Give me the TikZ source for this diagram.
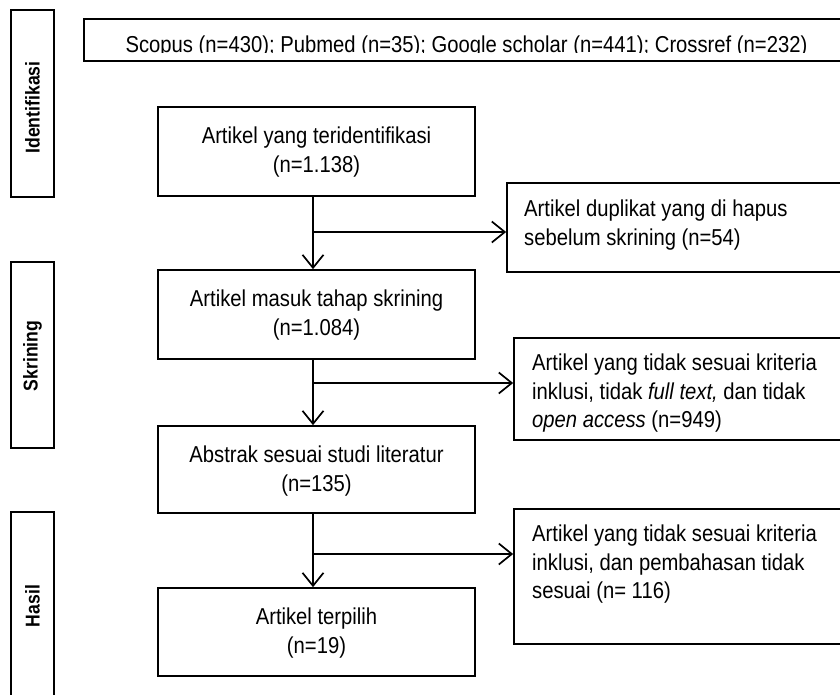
\documentclass[tikz,border=0pt]{standalone}
\usepackage{fontspec}
\setmainfont{Liberation Sans}[FakeStretch=0.88]
\usetikzlibrary{arrows.meta}
\begin{document}
\begin{tikzpicture}[x=1pt,y=-1pt,
  box/.style={draw, line width=1.7pt, inner sep=0pt},
  txt/.style={inner sep=0pt, font=\fontsize{23}{28.7}\selectfont},
  lab/.style={inner sep=0pt, rotate=90, font=\fontsize{20}{24}\selectfont\bfseries},
  arr/.style={line width=1.7pt, -{Straight Barb[length=13pt,width=21pt,line width=1.7pt]}}]
\useasboundingbox (0,0) rectangle (840,694);
\clip (0,0) rectangle (840,694);

% stage labels
\node[box, minimum width=43pt, minimum height=187pt] (l1) at (32.5,103.5) {};
\node[box, minimum width=43pt, minimum height=186pt] (l2) at (32.5,355) {};
\node[box, minimum width=43pt, minimum height=208pt] (l3) at (32.5,616) {};
\node[lab] (l1t) at (32.5,107.5) {Identifikasi};
\node[lab] (l2t) at (32.5,356) {Skrining};
\node[lab] (l3t) at (32.5,606) {Hasil};

% source box
\node[box, minimum width=765pt, minimum height=42pt] (src) at (466.5,40) {};
\begin{scope}
\clip (84,0) rectangle (849,52.6);
\node[txt, anchor=base] (srct) at (466.5,52) {Scopus (n=430); Pubmed (n=35); Google scholar (n=441); Crossref (n=232)};
\end{scope}

% main boxes
\node[box, minimum width=317pt, minimum height=89pt] (b1) at (316.5,151.5) {};
\node[box, minimum width=317pt, minimum height=89pt] (b2) at (316.5,314.5) {};
\node[box, minimum width=317pt, minimum height=87pt] (b3) at (316.5,469.5) {};
\node[box, minimum width=317pt, minimum height=88pt] (b4) at (316.5,632) {};

\node[txt, anchor=base] (b1a) at (316.5,143) {Artikel yang teridentifikasi};
\node[txt, anchor=base] (b1b) at (316.5,172) {(n=1.138)};
\node[txt, anchor=base] (b2a) at (316.5,306) {Artikel masuk tahap skrining};
\node[txt, anchor=base] (b2b) at (316.5,335) {(n=1.084)};
\node[txt, anchor=base] (b3a) at (316.5,462) {Abstrak sesuai studi literatur};
\node[txt, anchor=base] (b3b) at (316.5,491) {(n=135)};
\node[txt, anchor=base] (b4a) at (316.5,624) {Artikel terpilih};
\node[txt, anchor=base] (b4b) at (316.5,653) {(n=19)};

% right boxes
\node[box, minimum width=343pt, minimum height=89pt] (r1) at (678.5,227.5) {};
\node[box, minimum width=336pt, minimum height=102pt] (r2) at (682,389) {};
\node[box, minimum width=336pt, minimum height=135pt] (r3) at (682,576.5) {};

\node[txt, anchor=base west] (r1a) at (524,216) {Artikel duplikat yang di hapus};
\node[txt, anchor=base west] (r1b) at (524,245) {sebelum skrining (n=54)};
\node[txt, anchor=base west] (r2a) at (532,370.5) {Artikel yang tidak sesuai kriteria};
\node[txt, anchor=base west] (r2b) at (532,399.2) {inklusi, tidak \textit{full text,} dan tidak};
\node[txt, anchor=base west] (r2c) at (532,427.9) {\textit{open access} (n=949)};
\node[txt, anchor=base west] (r3a) at (532,541.5) {Artikel yang tidak sesuai kriteria};
\node[txt, anchor=base west] (r3b) at (532,570.2) {inklusi, dan pembahasan tidak};
\node[txt, anchor=base west] (r3c) at (532,598.9) {sesuai (n= 116)};

% connectors
\draw[arr] ([xshift=-3.5pt]b1.south) -- ([xshift=-3.5pt]b2.north);
\draw[arr] ([xshift=-3.5pt]b2.south) -- ([xshift=-3.5pt]b3.north);
\draw[arr] ([xshift=-3.5pt]b3.south) -- ([xshift=-3.5pt]b4.north);
\coordinate (j1) at (313,232);
\coordinate (j2) at (313,383);
\coordinate (j3) at (313,554);
\draw[arr] (j1) -- (j1 -| r1.west);
\draw[arr] (j2) -- (j2 -| r2.west);
\draw[arr] (j3) -- (j3 -| r3.west);
\end{tikzpicture}
\end{document}
